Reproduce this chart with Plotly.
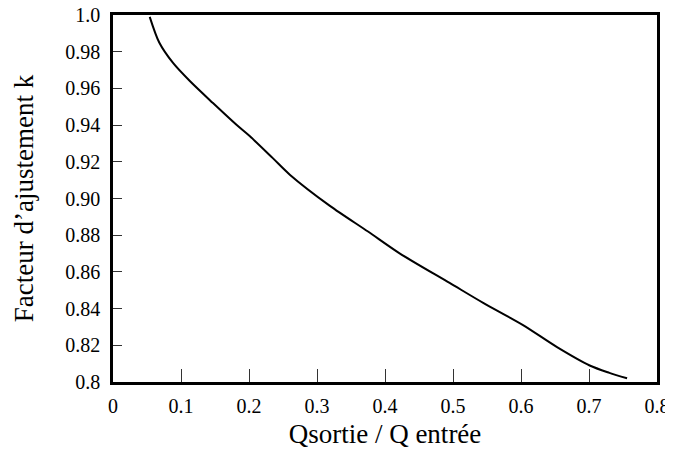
import plotly.graph_objects as go

# Curve
q_ratio = [0.054, 0.068, 0.088, 0.113, 0.147, 0.182, 0.201, 0.235, 0.260, 0.319,
           0.375, 0.422, 0.495, 0.545, 0.603, 0.653, 0.701, 0.730, 0.756]
k_factor = [0.999, 0.985, 0.974, 0.964, 0.952, 0.940, 0.934, 0.922, 0.913, 0.896,
            0.882, 0.870, 0.854, 0.843, 0.831, 0.819, 0.809, 0.805, 0.802]

x_tickvals = [0, 0.1, 0.2, 0.3, 0.4, 0.5, 0.6, 0.7, 0.8]
x_ticktext = ["0", "0.1", "0.2", "0.3", "0.4", "0.5", "0.6", "0.7", "0.8"]
y_tickvals = [0.80, 0.82, 0.84, 0.86, 0.88, 0.90, 0.92, 0.94, 0.96, 0.98, 1.00]
y_ticktext = ["0.8", "0.82", "0.84", "0.86", "0.88", "0.90", "0.92", "0.94", "0.96", "0.98", "1.0"]

font_family = "'Liberation Serif', 'Times New Roman', Times, 'DejaVu Serif', serif"

fig = go.Figure()
fig.add_trace(go.Scatter(x=q_ratio, y=k_factor, mode="lines",
                         line=dict(color="black", width=2, shape="spline", smoothing=0.8),
                         showlegend=False, hoverinfo="skip"))

# page body has an 8px margin: compensate so the plot frame lands where the reference has it
fig.update_layout(
    width=665, height=451,
    margin=dict(l=105, r=16, t=7, b=77, autoexpand=False),
    paper_bgcolor="white", plot_bgcolor="white",
    font=dict(family=font_family, color="black", size=20),
)
fig.update_xaxes(
    range=[0, 0.8], tickvals=x_tickvals, ticktext=x_ticktext,
    ticks="inside", ticklen=13, tickwidth=1, tickcolor="#333",
    showline=True, linewidth=2.5, linecolor="black", mirror=True,
    showgrid=False, zeroline=False, automargin=False,
    tickfont=dict(family=font_family, size=20),
    ticklabelstandoff=4, ticklabeloverflow="allow",
    title=dict(text="Qsortie / Q entrée", font=dict(family=font_family, size=27), standoff=9),
)
fig.update_yaxes(
    range=[0.8, 1.0], tickvals=y_tickvals, ticktext=y_ticktext,
    ticks="inside", ticklen=9, tickwidth=1, tickcolor="#333",
    showline=True, linewidth=2.5, linecolor="black", mirror=True,
    showgrid=False, zeroline=False, automargin=False,
    tickfont=dict(family=font_family, size=20),
    ticklabelstandoff=6, ticklabeloverflow="allow",
    title=dict(text="Facteur d’ajustement k", font=dict(family=font_family, size=27), standoff=24),
)

fig.write_html("out.html")
